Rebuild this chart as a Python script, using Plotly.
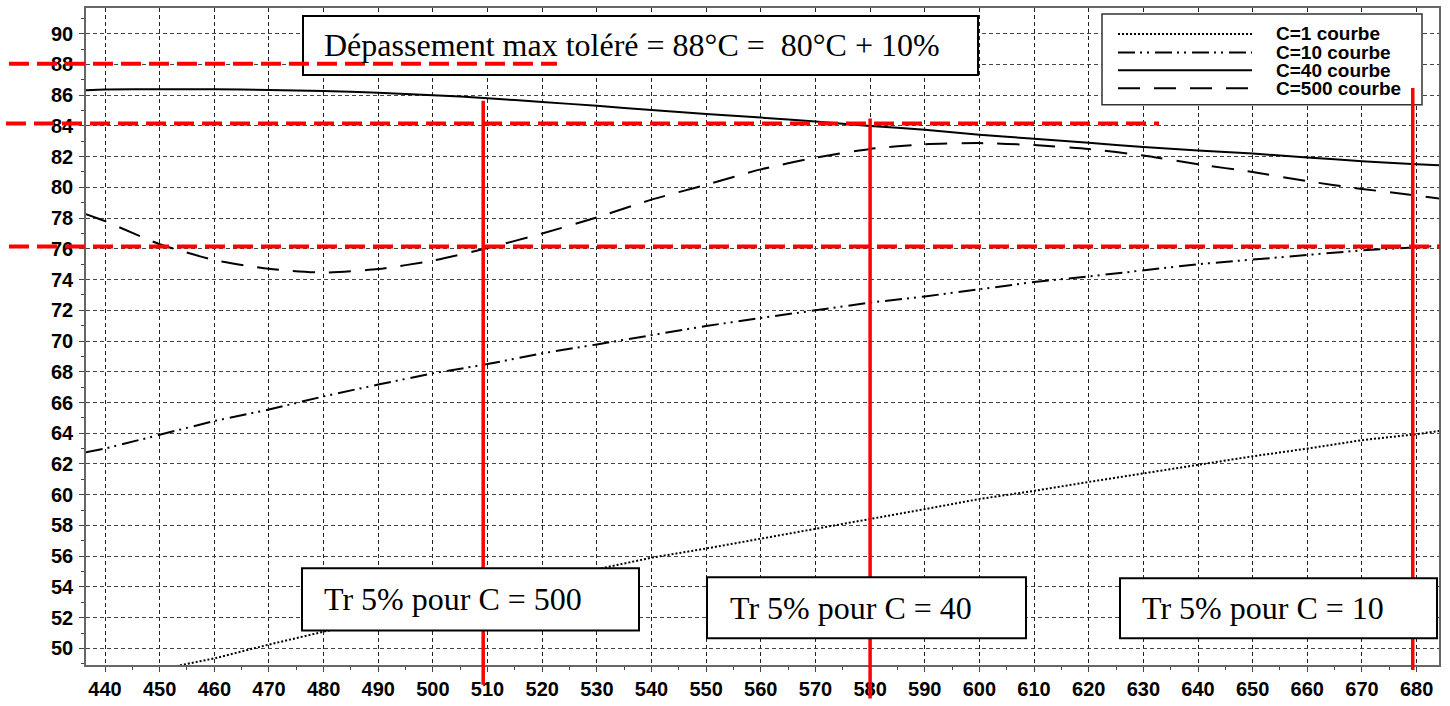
import plotly.graph_objects as go

# ---------------- data ----------------
x_c1 = [453, 460, 470, 480, 490, 500, 510, 520, 530, 540, 550, 560, 570, 580,
        590, 600, 610, 620, 630, 640, 650, 660, 670, 680, 684.1]
y_c1 = [48.85, 49.35, 50.25, 51.1, 51.95, 52.8, 53.6, 54.4, 55.15, 55.9, 56.5,
        57.13, 57.76, 58.4, 59.06, 59.72, 60.25, 60.83, 61.4, 61.94, 62.5,
        63.0, 63.55, 63.94, 64.15]

x_common = [436.5, 440, 450, 460, 470, 480, 490, 500, 510, 520, 530, 540, 550,
            560, 570, 580, 590, 600, 610, 620, 630, 640, 650, 660, 670, 680, 684.1]
y_c10 = [62.76, 63.0, 63.9, 64.8, 65.54, 66.4, 67.17, 67.9, 68.5, 69.2, 69.78,
         70.4, 70.98, 71.5, 72.02, 72.5, 72.9, 73.37, 73.84, 74.2, 74.6, 75.0,
         75.3, 75.6, 75.9, 76.1, 76.2]
y_c40 = [86.32, 86.37, 86.38, 86.38, 86.34, 86.27, 86.15, 86.0, 85.8, 85.55,
         85.31, 85.03, 84.77, 84.54, 84.28, 84.0, 83.74, 83.42, 83.17, 82.9,
         82.62, 82.4, 82.2, 81.95, 81.7, 81.5, 81.43]
y_c500 = [78.25, 77.8, 76.3, 75.27, 74.7, 74.45, 74.68, 75.24, 76.05, 77.0,
          78.04, 79.2, 80.17, 81.17, 81.93, 82.5, 82.8, 82.88, 82.75, 82.5,
          82.07, 81.5, 81.0, 80.4, 79.9, 79.47, 79.28]

series_names = ["C=1 courbe", "C=10 courbe", "C=40 courbe", "C=500 courbe"]

limit_levels = [88.05, 84.15, 76.15]          # horizontal red references
tr_times = [509.2, 580.0, 679.3]              # vertical red references
tr_labels = ["Tr 5% pour C = 500", "Tr 5% pour C = 40", "Tr 5% pour C = 10"]
title_text = "Dépassement max toléré = 88°C =\u00a0 80°C + 10%"

x_ticks = list(range(440, 681, 10))
y_ticks = list(range(50, 91, 2))

# ---------------- layout geometry ----------------
W, H = 1450, 706
ML, MR, MT, MB = 86, 11, 6, 34
PW = W - ML - MR
PH = H - MT - MB


def px(xp):
    return (xp - ML) / PW


def py(yp):
    return (H - MB - yp) / PH


DOT = "2px,2px"
DASHDOT = "17px,5px,2px,5px,2px,6px"
DASH = "22px,14px"
styles = [DOT, DASHDOT, "solid", DASH]

fig = go.Figure()
fig.add_trace(go.Scatter(x=x_c1, y=y_c1, mode="lines", name=series_names[0],
                         line=dict(color="black", width=2, dash=DOT)))
fig.add_trace(go.Scatter(x=x_common, y=y_c10, mode="lines", name=series_names[1],
                         line=dict(color="black", width=2, dash=DASHDOT)))
fig.add_trace(go.Scatter(x=x_common, y=y_c40, mode="lines", name=series_names[2],
                         line=dict(color="black", width=2, shape="spline", smoothing=0.6)))
fig.add_trace(go.Scatter(x=x_common, y=y_c500, mode="lines", name=series_names[3],
                         line=dict(color="black", width=2, dash=DASH, shape="spline", smoothing=0.6)))

shapes = []
annotations = []

# title box
shapes.append(dict(type="rect", xref="paper", yref="paper",
                   x0=px(303), x1=px(978), y0=py(74), y1=py(14),
                   fillcolor="white", line=dict(color="black", width=2), layer="above"))
annotations.append(dict(xref="paper", yref="paper", x=px(322), y=py(44),
                        xanchor="left", yanchor="middle", text=title_text, showarrow=False,
                        font=dict(family="Liberation Serif", size=32, color="black")))

# legend box
shapes.append(dict(type="rect", xref="paper", yref="paper",
                   x0=px(1102), x1=px(1422), y0=py(104), y1=py(12),
                   fillcolor="white", line=dict(color="#333", width=1.5), layer="above"))
legend_rows = [32.3, 51, 69, 87.3]
for name, st, ry in zip(series_names, styles, legend_rows):
    shapes.append(dict(type="line", xref="paper", yref="paper",
                       x0=px(1118), x1=px(1252), y0=py(ry), y1=py(ry),
                       line=dict(color="black", width=2, dash=st), layer="above"))
    annotations.append(dict(xref="paper", yref="paper", x=px(1274), y=py(ry),
                            xanchor="left", yanchor="middle", text="<b>" + name + "</b>",
                            showarrow=False,
                            font=dict(family="Liberation Sans", size=19, color="black")))

# red horizontal reference lines
h_extent = [(9, 557), (6, 1159), (9, 1440)]
for lvl, (a, b) in zip(limit_levels, h_extent):
    shapes.append(dict(type="line", xref="paper", yref="y",
                       x0=px(a), x1=px(b), y0=lvl, y1=lvl,
                       line=dict(color="#ff0000", width=4, dash="20px,8px"), layer="above"))

# red vertical reference lines
v_extent = [(100, 692), (118, 706), (87, 677)]
for t, (top, bot) in zip(tr_times, v_extent):
    shapes.append(dict(type="line", xref="x", yref="paper",
                       x0=t, x1=t, y0=py(bot), y1=py(top),
                       line=dict(color="#ff0000", width=3.5), layer="above"))

# Tr boxes
tr_boxes = [(302, 639, 574, 637, 322), (707, 1026, 583, 645, 728), (1120, 1437, 584, 645, 1140)]
for lab, (l, r, t, b, tx) in zip(tr_labels, tr_boxes):
    shapes.append(dict(type="rect", xref="paper", yref="paper",
                       x0=px(l), x1=px(r), y0=py(b), y1=py(t),
                       fillcolor="white", line=dict(color="black", width=2), layer="above"))
    annotations.append(dict(xref="paper", yref="paper", x=px(tx), y=py((t + b) / 2),
                            xanchor="left", yanchor="middle", text=lab, showarrow=False,
                            font=dict(family="Liberation Serif", size=32, color="black")))

axis_font = dict(family="Liberation Sans", size=20, color="black", weight="bold")
fig.update_layout(
    width=W, height=H,
    margin=dict(l=ML, r=MR, t=MT, b=MB),
    paper_bgcolor="white", plot_bgcolor="white",
    showlegend=False,
    shapes=shapes, annotations=annotations,
    xaxis=dict(range=[436.52, 684.1], tickvals=x_ticks, ticktext=[str(v) for v in x_ticks],
               showgrid=True, gridcolor="#222", gridwidth=1, griddash="4px,3px",
               zeroline=False, showline=True, linecolor="#666", linewidth=1.5, mirror=True,
               ticks="outside", ticklen=5, tickcolor="#444", tickfont=axis_font,
               minor=dict(dtick=5, tick0=435, ticks="outside", ticklen=3, tickcolor="#444", showgrid=False)),
    yaxis=dict(range=[48.92, 91.67], tickvals=y_ticks, ticktext=[str(v) for v in y_ticks],
               showgrid=True, gridcolor="#444", gridwidth=1, griddash="4px,3px",
               zeroline=False, showline=True, linecolor="#666", linewidth=1.5, mirror=True,
               ticks="outside", ticklen=5, tickcolor="#444", tickfont=axis_font,
               ticklabelstandoff=2,
               minor=dict(dtick=1, tick0=49, ticks="outside", ticklen=3, tickcolor="#444", showgrid=False)),
)

fig.write_html("out.html", config={"displayModeBar": False},
               post_script="document.body.style.margin='0';document.body.style.overflow='hidden';")
